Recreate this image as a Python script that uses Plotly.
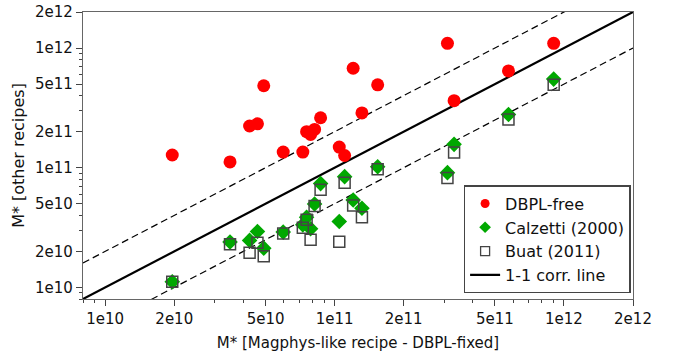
import plotly.graph_objects as go

# Shared x values: M* [Magphys-like recipe - DBPL-fixed]
mstar_fixed = [1.96e10, 3.50e10, 4.26e10, 4.61e10, 4.91e10, 5.97e10, 7.27e10, 7.55e10,
               7.86e10, 8.18e10, 8.69e10, 1.048e11, 1.106e11, 1.205e11, 1.316e11,
               1.541e11, 3.105e11, 3.319e11, 5.73e11, 9.02e11]
# y values for the other recipes
dbpl_free = [1.277e11, 1.117e11, 2.231e11, 2.327e11, 4.84e11, 1.35e11, 1.35e11, 2.0e11,
             1.897e11, 2.087e11, 2.615e11, 1.488e11, 1.265e11, 6.78e11, 2.872e11,
             4.93e11, 1.094e12, 3.634e11, 6.44e11, 1.094e12]
calzetti = [1.115e10, 2.395e10, 2.469e10, 2.933e10, 2.128e10, 2.899e10, 3.333e10, 3.861e10,
            3.087e10, 4.98e10, 7.37e10, 3.55e10, 8.42e10, 5.375e10, 4.585e10,
            1.019e11, 9.09e10, 1.567e11, 2.78e11, 5.5e11]
buat = [1.115e10, 2.296e10, 1.945e10, 2.363e10, 1.819e10, 2.822e10, 3.148e10, 3.668e10,
        2.502e10, 4.79e10, 6.54e10, 2.408e10, 7.48e10, 4.837e10, 3.861e10,
        9.72e10, 8.21e10, 1.337e11, 2.526e11, 4.93e11]

tick_vals = [1e10, 2e10, 5e10, 1e11, 2e11, 5e11, 1e12, 2e12]
tick_text = ["1e10", "2e10", "5e10", "1e11", "2e11", "5e11", "1e12", "2e12"]
axis_min, axis_max = 8e9, 2e12
line_x = [axis_min, axis_max]
minor_vals = [k * 10 ** n for n in range(9, 13) for k in range(1, 10)
              if axis_min <= k * 10 ** n <= axis_max]

FONT = "DejaVu Sans"

fig = go.Figure()
# dashed factor-of-two lines
fig.add_trace(go.Scatter(x=line_x, y=[2 * v for v in line_x], mode="lines",
                         line=dict(color="black", width=1.2, dash="7px,4px"),
                         showlegend=False, hoverinfo="skip"))
fig.add_trace(go.Scatter(x=line_x, y=[v / 2 for v in line_x], mode="lines",
                         line=dict(color="black", width=1.2, dash="7px,4px"),
                         showlegend=False, hoverinfo="skip"))
fig.add_trace(go.Scatter(x=line_x, y=line_x, mode="lines", name="1-1 corr. line",
                         line=dict(color="black", width=2.2), legendrank=4))
fig.add_trace(go.Scatter(x=mstar_fixed, y=dbpl_free, mode="markers", name="DBPL-free",
                         marker=dict(symbol="circle", size=13, color="#ff0000"),
                         showlegend=False))
fig.add_trace(go.Scatter(x=mstar_fixed, y=calzetti, mode="markers", name="Calzetti (2000)",
                         marker=dict(symbol="diamond", size=12, color="#00a800"),
                         showlegend=False))
fig.add_trace(go.Scatter(x=mstar_fixed, y=buat, mode="markers", name="Buat (2011)",
                         marker=dict(symbol="square-open", size=11, color="#444444",
                                     line=dict(width=1.5, color="#444444")),
                         showlegend=False))
# legend entries with the smaller legend symbols of the original
fig.add_trace(go.Scatter(x=[None], y=[None], mode="markers", name="DBPL-free",
                         marker=dict(symbol="circle", size=9, color="#ff0000"),
                         legendrank=1))
fig.add_trace(go.Scatter(x=[None], y=[None], mode="markers", name="Calzetti (2000)",
                         marker=dict(symbol="diamond", size=9, color="#00a800"),
                         legendrank=2))
fig.add_trace(go.Scatter(x=[None], y=[None], mode="markers", name="Buat (2011)",
                         marker=dict(symbol="square-open", size=9, color="#444444",
                                     line=dict(width=1.3, color="#444444")),
                         legendrank=3))

axis_common = dict(
    type="log", tickvals=tick_vals, ticktext=tick_text, ticks="outside", ticklen=6,
    tickwidth=1, tickcolor="#444", showline=True, linecolor="#666", linewidth=1.3,
    mirror=True, showgrid=False, zeroline=False, automargin=False,
    tickfont=dict(family=FONT, size=15, color="#111"),
    minor=dict(tickvals=minor_vals, ticks="outside", ticklen=3, tickcolor="#444",
               showgrid=False),
)
fig.update_xaxes(range=[9.90309, 12.30103],
                 title=dict(text="M* [Magphys-like recipe - DBPL-fixed]",
                            font=dict(family=FONT, size=15, color="#111"),
                            standoff=10),
                 **axis_common)
fig.update_yaxes(range=[9.90309, 12.30103],
                 title=dict(text="M* [other recipes]",
                            font=dict(family=FONT, size=16, color="#111"),
                            standoff=6),
                 **axis_common)

fig.update_layout(
    width=681, height=352,
    margin=dict(l=83, r=48, t=12, b=53, autoexpand=False),
    paper_bgcolor="white", plot_bgcolor="white",
    showlegend=True,
    legend=dict(x=0.996, y=0.02, xanchor="right", yanchor="bottom",
                bgcolor="white", bordercolor="#444", borderwidth=1.3,
                font=dict(family=FONT, size=16, color="#111"),
                itemwidth=30, itemsizing="trace"),
)

fig.write_html("out.html")
